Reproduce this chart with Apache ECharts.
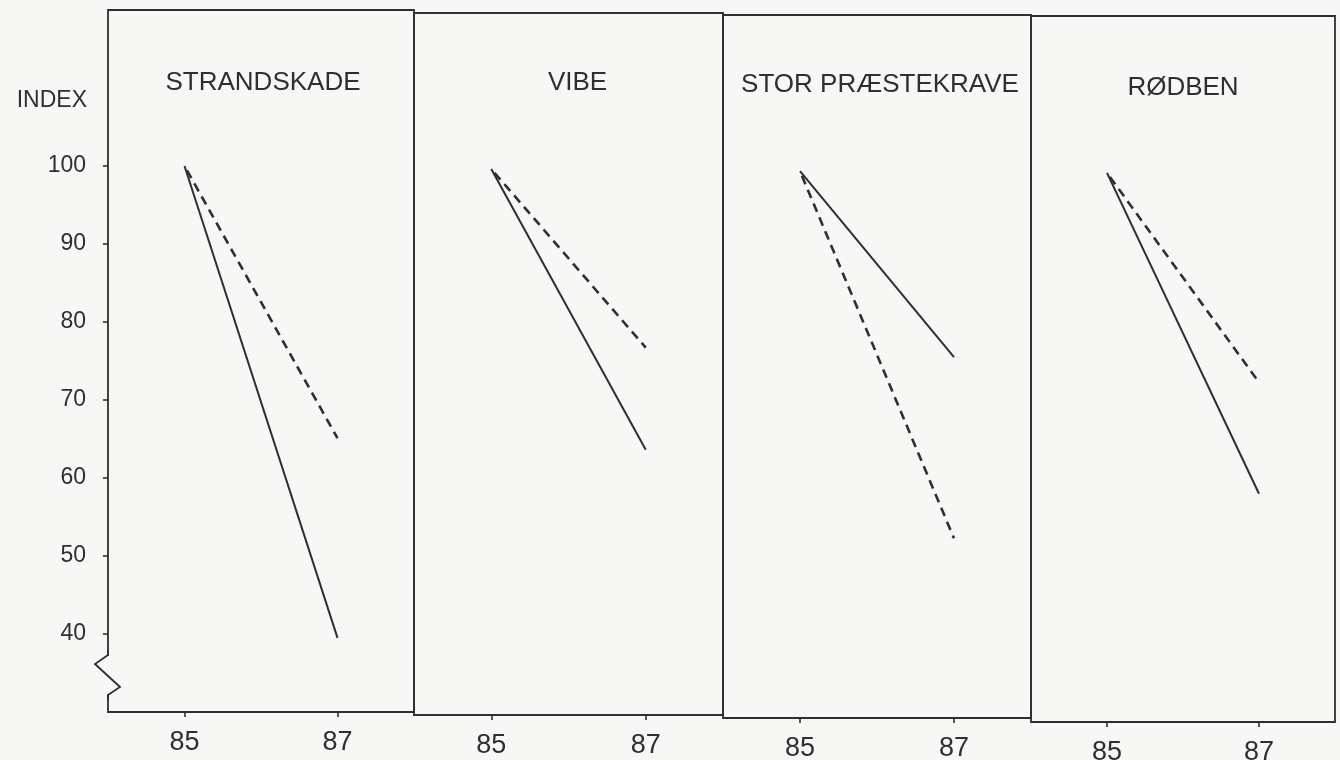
<!DOCTYPE html>
<html>
<head>
<meta charset="utf-8">
<script src="https://cdn.jsdelivr.net/npm/echarts@6/dist/echarts.min.js"></script>
<style>
html,body{margin:0;padding:0;background:#f7f7f5;}
#chart{width:1340px;height:760px;}
</style>
</head>
<body>
<div id="chart"></div>
<script>
// ---- data ----
const years = [85, 87];
const species = ['STRANDSKADE', 'VIBE', 'STOR PRÆSTEKRAVE', 'RØDBEN'];
const solid85 = [100, 100, 100, 100];
const solid87 = [39.5, 64.0, 76.2, 59.1];
const dashed85 = [100, 100, 100, 100];
const dashed87 = [65.1, 77.1, 53.0, 73.3];
const yTickLabels = [40, 50, 60, 70, 80, 90, 100];
const xTickLabels = [85, 87];
const yAxisName = 'INDEX';

// ---- layout ----
const panelLeft = [108, 414, 723, 1031];
const panelWidth = [306, 309, 308, 304];
const panelTop = [10, 13, 15, 16];
const panelBottomY = [712, 715, 718, 722];
const titleTop = [65, 65, 67, 70];
const titleShift = [-3, 4, -2, -5];

const ink = '#2f2f2f';
const bg = '#f7f7f5';
const font = '"Liberation Sans", Arial, Helvetica, sans-serif';

const chart = echarts.init(document.getElementById('chart'), null, {renderer: 'canvas'});

const grids = [], xAxes = [], yAxes = [], series = [], titles = [];
species.forEach((name, i) => {
  grids.push({
    left: panelLeft[i], width: panelWidth[i],
    top: panelTop[i], bottom: 760 - panelBottomY[i],
    containLabel: false, outerBoundsMode: 'none',
    show: true, borderColor: ink, borderWidth: 1.8, backgroundColor: 'transparent'
  });
  xAxes.push({
    type: 'value', gridIndex: i, min: 84, max: 88, interval: 1,
    splitLine: {show: false},
    axisLine: {show: false},
    axisTick: {show: true, inside: false, length: 5, lineStyle: {color: ink, width: 1.6}, customValues: xTickLabels},
    axisLabel: {show: true, customValues: xTickLabels, margin: 17, fontSize: 27, color: ink, fontFamily: font}
  });
  yAxes.push({
    type: 'value', gridIndex: i, min: 30, max: 120, interval: 10,
    splitLine: {show: false},
    axisLine: {show: false},
    axisTick: {show: i === 0, inside: false, length: 5, lineStyle: {color: ink, width: 1.6}, customValues: yTickLabels},
    axisLabel: {show: i === 0, customValues: yTickLabels, margin: 22, fontSize: 23, color: ink, fontFamily: font}
  });
  titles.push({
    text: name,
    left: panelLeft[i] + panelWidth[i] / 2 + titleShift[i],
    top: titleTop[i],
    textAlign: 'center',
    textStyle: {fontSize: 26, fontWeight: 'normal', color: ink, fontFamily: font}
  });
  series.push({
    type: 'line', xAxisIndex: i, yAxisIndex: i, symbol: 'none', silent: true,
    data: [[years[0], solid85[i]], [years[1], solid87[i]]],
    lineStyle: {color: ink, width: 2, type: 'solid'}
  });
  series.push({
    type: 'line', xAxisIndex: i, yAxisIndex: i, symbol: 'none', silent: true,
    data: [[years[0], dashed85[i]], [years[1], dashed87[i]]],
    lineStyle: {color: ink, width: 2.6, type: [9, 6], dashOffset: 10}
  });
});

chart.setOption({
  backgroundColor: bg,
  animation: false,
  title: titles,
  grid: grids,
  xAxis: xAxes,
  yAxis: yAxes,
  series: series,
  graphic: [
    {type: 'text', x: 87, y: 101, z: 100,
     style: {text: yAxisName, align: 'right', verticalAlign: 'middle', fontSize: 23, fontFamily: font, fill: ink}},
    {type: 'rect', z: 100, shape: {x: 102, y: 656, width: 10, height: 38}, style: {fill: bg}},
    {type: 'polyline', z: 101,
     shape: {points: [[108, 650], [108, 655], [95, 664], [120, 687], [108, 695], [108, 700]]},
     style: {stroke: ink, lineWidth: 1.8, fill: null}}
  ]
});
</script>
</body>
</html>
